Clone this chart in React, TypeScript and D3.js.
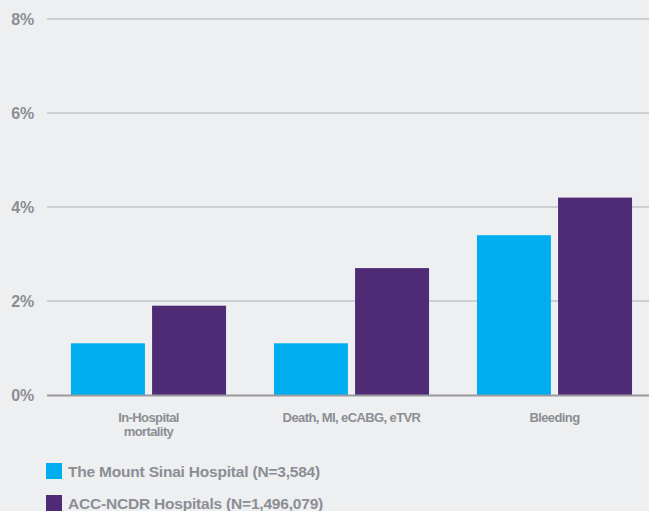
import React from "react";
import * as d3 from "d3";

const categories = ["In-Hospital\nmortality", "Death, MI, eCABG, eTVR", "Bleeding"];
const seriesNames = ["The Mount Sinai Hospital (N=3,584)", "ACC-NCDR Hospitals (N=1,496,079)"];
const mountSinai = [1.1, 1.1, 3.4];
const accNcdr = [1.9, 2.7, 4.2];
const yTicks = [0, 2, 4, 6, 8];
const colors = ["#00aeef", "#4f2a75"];

const W = 649;
const H = 511;
const left = 47;
const right = 656;
const y0 = 395;
const y8 = 19;

export default function App() {
  const x = d3.scaleBand<number>().domain([0, 1, 2]).range([left, right]).paddingInner(0.236).paddingOuter(0.118);
  const x1 = d3.scaleBand<number>().domain([0, 1]).range([0, x.bandwidth()]).paddingInner(0.088);
  const y = d3.scaleLinear().domain([0, 8]).range([y0, y8]);
  const series = [mountSinai, accNcdr];
  const textColor = "#8b8e94";
  const font = "'Liberation Sans', Arial, sans-serif";
  return (
    <svg width={W} height={H} style={{ position: "absolute", left: 0, top: 0, background: "#eeeff1" }} fontFamily={font}>
      <rect x={0} y={0} width={W} height={H} fill="#eeeff1" />
      {yTicks.map((t) => (
        <g key={t}>
          {t !== 0 && <line x1={left} x2={W} y1={y(t)} y2={y(t)} stroke="#c2c3c7" strokeWidth={1.5} />}
          <text x={34} y={y(t)} dy="0.36em" textAnchor="end" fontSize={16} fontWeight="bold" fill={textColor} letterSpacing={-0.2}>
            {t}%
          </text>
        </g>
      ))}
      {categories.map((c, i) =>
        series.map((s, j) => (
          <rect
            key={`${i}-${j}`}
            x={(x(i) as number) + (x1(j) as number)}
            y={y(s[i])}
            width={x1.bandwidth()}
            height={y0 - y(s[i])}
            fill={colors[j]}
          />
        ))
      )}
      <line x1={left} x2={W} y1={y0 + 0.5} y2={y0 + 0.5} stroke="#999a9e" strokeWidth={2} />
      {categories.map((c, i) => (
        <text key={c} x={(x(i) as number) + x.bandwidth() / 2} y={422} textAnchor="middle" fontSize={13} fontWeight="bold" fill={textColor} letterSpacing={-0.6}>
          {c.split("\n").map((line, k) => (
            <tspan key={k} x={(x(i) as number) + x.bandwidth() / 2} dy={k === 0 ? 0 : 13.5}>
              {line}
            </tspan>
          ))}
        </text>
      ))}
      {seriesNames.map((n, j) => (
        <g key={n} transform={`translate(46, ${463 + j * 32})`}>
          <rect x={0} y={0} width={16} height={16} fill={colors[j]} />
          <text x={22} y={14} fontSize={15.5} fontWeight="bold" fill={textColor} letterSpacing={-0.2}>
            {n}
          </text>
        </g>
      ))}
    </svg>
  );
}
